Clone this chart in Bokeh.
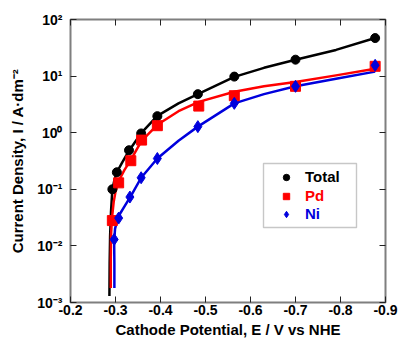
from bokeh.plotting import figure
from bokeh.models import (Range1d, FixedTicker, CustomJSTickFormatter, LinearAxis, LogAxis,
                          Legend, LegendItem, BoxAnnotation, CustomLabelingPolicy)
from bokeh.embed import file_html
from bokeh.resources import INLINE

# measured points
total_E = [-0.293, -0.303, -0.330, -0.357, -0.393, -0.483, -0.564, -0.700, -0.877]
total_I = [0.10, 0.20, 0.49, 0.97, 1.96, 4.8, 9.8, 19.5, 47.0]
pd_E = [-0.293, -0.307, -0.334, -0.358, -0.393, -0.485, -0.564, -0.700, -0.877]
pd_I = [0.028, 0.13, 0.32, 0.74, 1.33, 2.95, 4.5, 6.6, 14.9]
ni_E = [-0.297, -0.307, -0.332, -0.357, -0.393, -0.483, -0.564, -0.700, -0.877]
ni_I = [0.013, 0.031, 0.073, 0.16, 0.35, 1.28, 3.3, 6.6, 15.5]

# fitted curves
total_fit_E = [-0.2865, -0.287, -0.288, -0.290, -0.293, -0.298, -0.303, -0.315, -0.330, -0.357,
               -0.393, -0.440, -0.483, -0.564, -0.630, -0.700, -0.790, -0.877]
total_fit_I = [0.0013, 0.005, 0.015, 0.04, 0.10, 0.15, 0.20, 0.30, 0.48, 0.98,
               1.98, 3.3, 4.8, 9.7, 14.0, 19.5, 29.0, 47.0]
pd_fit_E = [-0.2895, -0.2895, -0.290, -0.292, -0.296, -0.300, -0.307, -0.320, -0.334, -0.358,
            -0.393, -0.440, -0.485, -0.564, -0.630, -0.700, -0.790, -0.877]
pd_fit_I = [0.0018, 0.006, 0.015, 0.03, 0.06, 0.09, 0.14, 0.22, 0.33, 0.72,
            1.38, 2.4, 3.5, 5.3, 6.6, 7.9, 10.3, 13.5]
ni_fit_E = [-0.2975, -0.2975, -0.297, -0.299, -0.303, -0.310, -0.320, -0.335, -0.357, -0.393,
            -0.440, -0.483, -0.564, -0.630, -0.700, -0.790, -0.877]
ni_fit_I = [0.0018, 0.005, 0.012, 0.020, 0.027, 0.037, 0.050, 0.078, 0.16, 0.35,
            0.72, 1.28, 3.3, 4.8, 6.6, 9.0, 12.0]

x_ticks = [-0.2, -0.3, -0.4, -0.5, -0.6, -0.7, -0.8, -0.9]
y_ticks = [1e-3, 1e-2, 1e-1, 1e0, 1e1, 1e2]

FONT = "Liberation Sans"
BLUE = "#0000dd"
RED = "#ff0000"

p = figure(width=413, height=342, x_range=Range1d(-0.2, -0.9), y_range=Range1d(1e-3, 1e2),
           y_axis_type="log", output_backend="svg", toolbar_location=None,
           min_border_left=70, min_border_right=11, min_border_top=19, min_border_bottom=40)
p.grid.visible = False
p.outline_line_color = "#7f7f7f"
p.outline_line_width = 2
p.background_fill_color = "white"
p.border_fill_color = "white"

xfmt = CustomJSTickFormatter(code="return tick.toFixed(1);")
yfmt = CustomJSTickFormatter(code="""
const sup = {'-':'\u207b','0':'\u2070','1':'\u00b9','2':'\u00b2','3':'\u00b3','4':'\u2074'};
const e = Math.round(Math.log10(tick));
return '10' + String(e).split('').map(c => sup[c]).join('');
""")
no_labels = CustomLabelingPolicy(code="""
const all = Array.from(indices);
for (const i of all) indices.unset(i);
return indices;
""")


def style_axis(ax):
    ax.axis_line_color = None
    ax.major_tick_in = 6
    ax.major_tick_out = 0
    ax.major_tick_line_color = "#222222"
    ax.major_tick_line_width = 1
    ax.minor_tick_line_color = None
    ax.major_label_text_font = FONT
    ax.major_label_text_font_style = "bold"
    ax.major_label_text_color = "black"
    ax.major_label_text_font_size = "14px"
    ax.axis_label_text_color = "black"


xa = p.xaxis[0]
xa.ticker = FixedTicker(ticks=x_ticks)
xa.formatter = xfmt
style_axis(xa)
xa.major_label_standoff = 2
xa.axis_label = "Cathode Potential, E / V vs NHE"
xa.axis_label_text_font = FONT
xa.axis_label_text_font_style = "bold"
xa.axis_label_text_font_size = "15px"
xa.axis_label_standoff = 3

ya = p.yaxis[0]
ya.ticker = FixedTicker(ticks=y_ticks)
ya.formatter = yfmt
style_axis(ya)
ya.major_label_standoff = 8
ya.axis_label = "Current Density, I / A\u00b7dm\u207b\u00b2"
ya.axis_label_text_font = FONT
ya.axis_label_text_font_style = "bold"
ya.axis_label_text_font_size = "15px"
ya.axis_label_standoff = 8

top = LinearAxis(ticker=FixedTicker(ticks=x_ticks), formatter=xfmt, major_label_policy=no_labels)
style_axis(top)
top.major_label_standoff = 0
p.add_layout(top, "above")
right = LogAxis(ticker=FixedTicker(ticks=y_ticks), formatter=yfmt, major_label_policy=no_labels)
style_axis(right)
right.major_label_standoff = 0
p.add_layout(right, "right")

# curves
p.line(total_fit_E, total_fit_I, line_color="black", line_width=2.5, line_join="round")
p.line(pd_fit_E, pd_fit_I, line_color=RED, line_width=2.5, line_join="round")
p.line(ni_fit_E, ni_fit_I, line_color=BLUE, line_width=2.5, line_join="round")

r_total = p.scatter(total_E, total_I, marker="circle", size=9, color="black")
r_pd = p.scatter(pd_E, pd_I, marker="square", size=10, color=RED)
r_ni = p.scatter(ni_E, ni_I, marker="diamond", size=12, color=BLUE)

# legend frame
box = BoxAnnotation(left=193, right=286, bottom=75, top=139,
                    left_units="screen", right_units="screen",
                    bottom_units="screen", top_units="screen",
                    fill_color="white", fill_alpha=1.0,
                    line_color="#444444", line_width=1.4, level="annotation")
p.add_layout(box)

for label, rend, col, loc in [("Total", r_total, "black", (206, 117)),
                              ("Pd", r_pd, RED, (206, 98)),
                              ("Ni", r_ni, BLUE, (206, 80))]:
    leg = Legend(items=[LegendItem(label=label, renderers=[rend])], location=loc,
                 label_text_color=col, label_text_font=FONT, label_text_font_style="bold",
                 label_text_font_size="15px", border_line_color=None,
                 background_fill_alpha=0, padding=0, spacing=0, margin=0,
                 glyph_width=20, glyph_height=16, label_height=16, label_standoff=9)
    p.add_layout(leg, "center")

open("out.html", "w").write(file_html(p, INLINE))
